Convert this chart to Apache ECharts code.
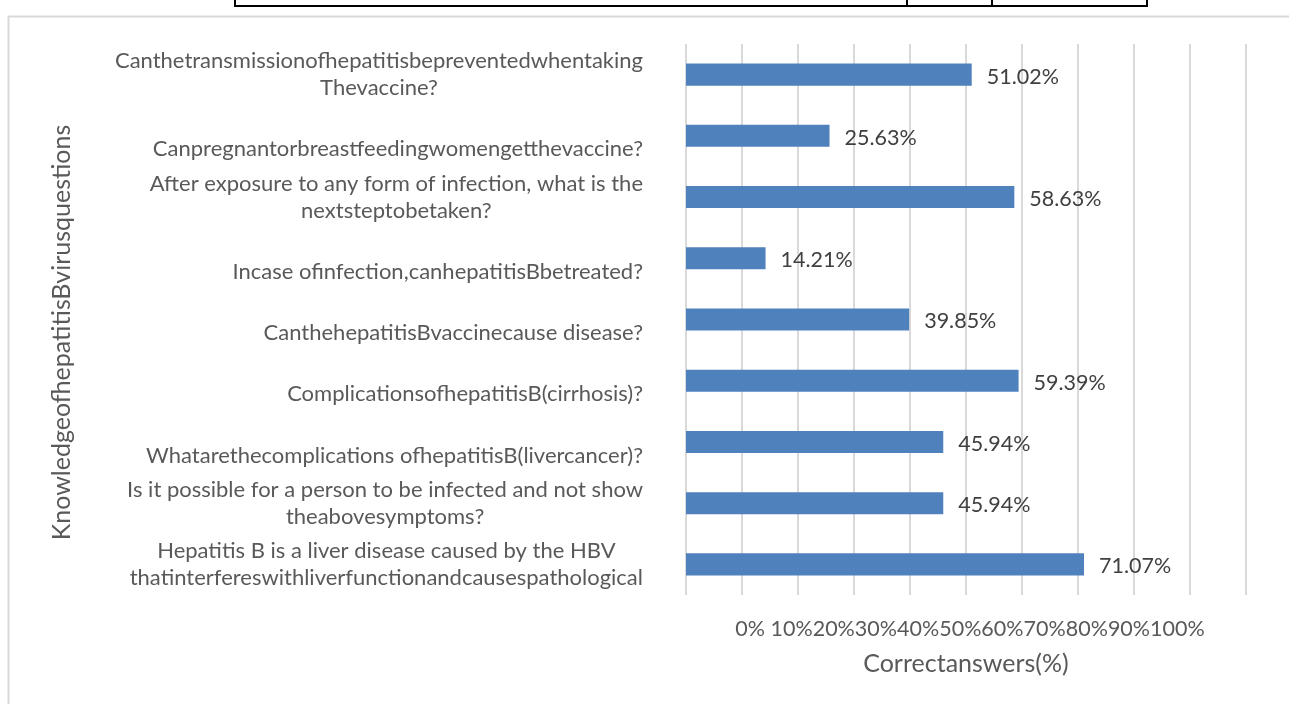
<!DOCTYPE html>
<html><head><meta charset="utf-8">
<script src="https://cdn.jsdelivr.net/npm/echarts@6/dist/echarts.min.js"></script>
<style>html,body{margin:0;padding:0;background:#fff}#c{width:1289px;height:704px}</style>
</head><body><div id="c"></div>
<script>
const categories = [
  "Canthetransmissionofhepatitisbepreventedwhentaking\nThevaccine?",
  "Canpregnantorbreastfeedingwomengetthevaccine?",
  "After exposure to any form of infection, what is the\nnextsteptobetaken?",
  "Incase ofinfection,canhepatitisBbetreated?",
  "CanthehepatitisBvaccinecause disease?",
  "ComplicationsofhepatitisB(cirrhosis)?",
  "Whatarethecomplications ofhepatitisB(livercancer)?",
  "Is it possible for a person to be infected and not show\ntheabovesymptoms?",
  "Hepatitis B is a liver disease caused by the HBV\nthatinterfereswithliverfunctionandcausespathological"
];
const values = [51.02, 25.63, 58.63, 14.21, 39.85, 59.39, 45.94, 45.94, 71.07];
const tickLabels = ["0%","10%","20%","30%","40%","50%","60%","70%","80%","90%","100%"];
const xTitle = "Correctanswers(%)";
const yTitle = "KnowledgeofhepatitisBvirusquestions";

const FONT = "Lato, 'Open Sans', sans-serif";
const chart = echarts.init(document.getElementById('c'), null, {renderer:'canvas'});
const tickText = tickLabels[0] + " " + tickLabels.slice(1).join("");
chart.setOption({
  animation: false,
  backgroundColor: '#fff',
  textStyle: {fontFamily: FONT},
  grid: {left: 686, right: 43, top: 44, bottom: 109, containLabel: false},
  xAxis: [{
    type: 'value', min: 0, max: 100, interval: 10,
    axisLine: {show: false}, axisTick: {show: false}, axisLabel: {show: false},
    splitLine: {show: true, lineStyle: {color: '#d9d9d9', width: 2}},
    name: tickText, nameLocation: 'middle', nameGap: 23,
    nameTextStyle: {color: '#595959', fontSize: 21.5, fontFamily: FONT, padding: [0,0,0,8]}
  },{
    type: 'value', min: 0, max: 100, position: 'bottom',
    axisLine: {show: false}, axisTick: {show: false}, axisLabel: {show: false}, splitLine: {show: false},
    name: xTitle, nameLocation: 'middle', nameGap: 56,
    nameTextStyle: {color: '#595959', fontSize: 25, fontFamily: FONT}
  }],
  yAxis: {
    type: 'category', data: categories, inverse: true,
    axisLine: {show: false}, axisTick: {show: false},
    axisLabel: {
      margin: 43, align: 'right', color: '#595959', fontSize: 22, fontFamily: FONT, lineHeight: 27,
      formatter: function (s) {
        const lines = s.split('\n');
        if (lines.length === 1) return '{e|}\n{c|' + s + '}';
        return lines.map(l => '{c|' + l + '}').join('\n');
      },
      rich: {
        c: {align: 'center', color: '#595959', fontSize: 22, fontFamily: FONT, lineHeight: 27},
        e: {lineHeight: 27, fontSize: 22}
      }
    },
    name: yTitle, nameLocation: 'middle', nameGap: 612, nameRotate: 90,
    nameTextStyle: {color: '#595959', fontSize: 25, fontFamily: FONT, padding: [0,0,0,-26]}
  },
  series: [{
    type: 'bar', data: values, xAxisIndex: 0, barWidth: '36%',
    itemStyle: {color: '#4F81BD'},
    label: {show: true, position: 'right', distance: 15, color: '#404040', fontSize: 21.5, fontFamily: FONT,
      offset: [0, 2],
      formatter: p => p.value.toFixed(2) + '%'}
  }],
  graphic: [
    {type: 'rect', shape: {x: 8.5, y: 16.5, width: 1300, height: 700}, style: {fill: 'none', stroke: '#d9d9d9', lineWidth: 2}, silent: true},
    {type: 'polyline', shape: {points: [[235,0],[235,6],[1147,6],[1147,0]]}, style: {fill: 'none', stroke: '#000', lineWidth: 2}},
    {type: 'line', shape: {x1: 907, y1: 0, x2: 907, y2: 6}, style: {stroke: '#000', lineWidth: 2}},
    {type: 'line', shape: {x1: 992, y1: 0, x2: 992, y2: 6}, style: {stroke: '#000', lineWidth: 2}}
  ]
});
</script></body></html>
